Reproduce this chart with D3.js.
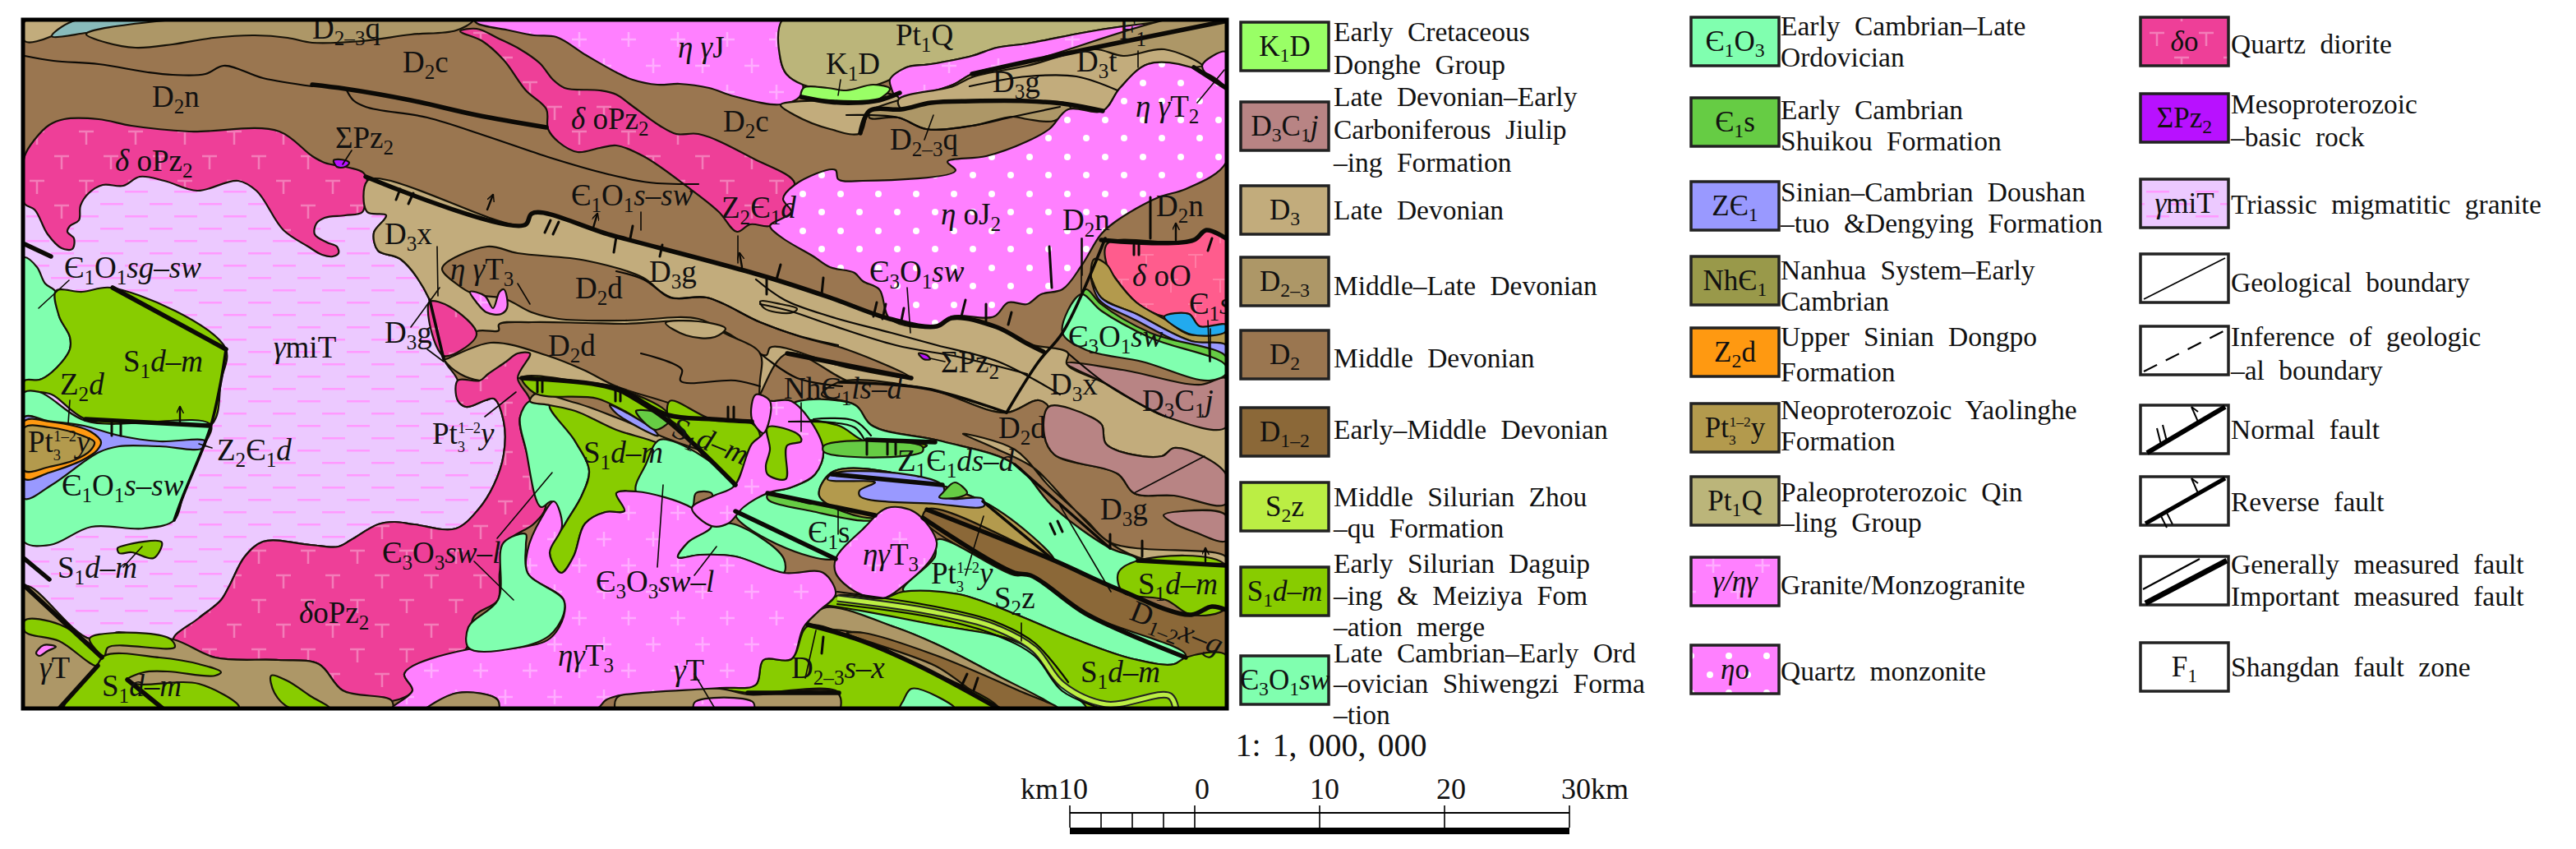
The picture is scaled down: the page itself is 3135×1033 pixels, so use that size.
<!DOCTYPE html>
<html>
<head>
<meta charset="utf-8">
<script src="https://cdn.jsdelivr.net/npm/d3@7"></script>
<style>
  html, body { margin: 0; background: #fff; }
  text { font-family: "Liberation Serif", serif; fill: #111; }
  .legendText { word-spacing: 9px; }
</style>
</head>
<body>
<div id="chart"></div>
<script>
// unit colours
var unitFill = {
  K1D: "#99ff66", D3C1j: "#b88484", D3: "#c2ac7c", D23: "#ad9767", D2: "#9a7650", D12: "#8b6838",
  S2z: "#bbee44", S1: "#88cc00", C3O1: "#80ffaf", C1O3: "#80ffaf", C1s: "#66cc44", Z: "#9999ff",
  Nh: "#99994a", Z2d: "#ff9911", Pt3: "#b39a4d", Pt1Q: "#bbb57a", gran: "#ff80ff", qmon: "#ff80ff",
  dior: "#ee3f98", sigma: "#b811ff", mig: "#ecc9ff", teal: "#88bbbb", doO: "#ff5c8d", cyan: "#22aaee"
};

// map outcrops, in map units (1 unit = 1 image pixel, 152 units = 10 km)
var tanNW = [[30,26],[88,26],[63,44],[30,50]];
var tealSliver = [[63,44],[88,26],[185,26],[105,40]];
var d23North = [[105,42],[130,52],[165,58],[210,54],[260,46],[310,43],[350,46],[380,52],[440,50],[500,42],[555,37],[575,26],[190,26]];
var migmatite = [[30,240],[450,240],[470,262],[455,283],[460,305],[487,315],[523,365],[540,437],[557,463],[557,487],[567,495],[591,487],[601,485],[613,513],[613,553],[601,590],[582,620],[555,643],[504,638],[480,635],[460,638],[427,657],[412,665],[378,663],[320,659],[298,677],[279,713],[269,730],[242,752],[211,778],[140,770],[136,775],[109,777],[30,713]];
var dioriteNW = [[30,190],[42,170],[60,152],[78,145],[120,145],[160,153],[230,160],[340,160],[380,190],[395,198],[425,204],[442,210],[447,220],[445,240],[441,258],[420,262],[395,265],[385,272],[383,285],[398,295],[410,300],[412,308],[405,312],[392,310],[375,300],[345,280],[312,232],[290,220],[240,232],[200,220],[170,215],[150,226],[125,225],[108,235],[98,250],[96,268],[85,275],[82,282],[90,290],[88,303],[75,302],[58,285],[42,255],[30,248]];
var graniteJ = [[577,24],[952,24],[950,73],[957,90],[977,103],[973,118],[950,127],[893,117],[863,107],[827,102],[800,103],[770,97],[750,88],[713,67],[677,45],[650,43],[620,37],[580,28]];
var dioriteN = [[560,38],[580,35],[607,47],[633,60],[657,77],[673,97],[687,107],[730,110],[750,115],[767,127],[803,153],[823,163],[850,163],[917,193],[967,223],[957,242],[963,258],[937,275],[913,273],[897,282],[875,258],[840,230],[783,190],[750,177],[730,180],[703,185],[680,173],[667,157],[665,133],[640,110],[613,73],[587,50]];
var pt1q = [[952,24],[1462,24],[1360,33],[1317,40],[1250,53],[1213,58],[1183,68],[1133,78],[1103,82],[1083,97],[1030,110],[977,103],[957,90],[950,73]];
var graniteSliver = [[1083,97],[1103,82],[1133,78],[1183,68],[1213,58],[1250,53],[1317,40],[1360,33],[1450,24],[1470,24],[1363,50],[1250,75],[1183,90],[1160,103],[1117,117],[1093,122],[1085,108]];
var tanLens = [[950,128],[967,140],[1010,157],[1047,162],[1058,135],[1095,133],[1093,118],[1000,122]];
var d3East = [[1058,135],[1093,122],[1160,103],[1183,90],[1250,75],[1492,24],[1492,108],[1450,82],[1397,78],[1363,107],[1342,135],[1300,127],[1250,123],[1183,123],[1133,125],[1097,133]];
var d3EastBand = [[1093,122],[1160,105],[1183,94],[1250,80],[1333,60],[1367,68],[1417,60],[1463,80],[1450,82],[1397,78],[1363,107],[1342,135],[1300,127],[1250,123],[1183,123],[1133,125],[1097,133]];
var d23East = [[1058,135],[1097,133],[1133,125],[1183,123],[1250,123],[1300,127],[1303,132],[1283,147],[1250,145],[1233,142],[1183,153],[1127,157],[1093,143],[1058,143]];
var graniteNE = [[1463,80],[1492,63],[1492,107]];
var k1d = [[978,107],[1007,107],[1030,110],[1063,103],[1083,108],[1067,122],[1040,123],[1010,122],[975,117]];
var monzoniteJ = [[967,225],[1017,207],[1020,218],[1050,220],[1163,207],[1153,197],[1200,190],[1250,172],[1277,157],[1300,133],[1342,135],[1363,107],[1397,78],[1450,82],[1492,108],[1492,198],[1443,230],[1410,240],[1357,270],[1340,285],[1317,322],[1293,352],[1267,358],[1250,370],[1227,368],[1210,385],[1158,385],[1140,397],[1083,388],[1070,352],[1050,342],[1040,332],[1010,325],[990,312],[950,288],[937,275],[963,258],[953,242]];
var doO = [[1347,297],[1453,293],[1468,280],[1492,290],[1492,395],[1460,397],[1447,382],[1417,385],[1383,368],[1357,338],[1347,322]];
var cyanPatch = [[1417,385],[1447,382],[1460,397],[1492,395],[1492,403],[1450,407]];
var pt3East = [[1332,315],[1347,322],[1357,338],[1383,368],[1417,388],[1447,407],[1492,405],[1492,418],[1450,415],[1383,382],[1340,362],[1328,338]];
var blueEast = [[1328,338],[1340,362],[1383,382],[1450,415],[1492,420],[1492,433],[1437,417],[1383,390],[1337,364]];
var c1sEast = [[1322,352],[1340,370],[1400,405],[1492,434],[1492,444],[1400,413],[1340,380],[1316,358]];
var mintEast = [[1316,358],[1340,378],[1400,411],[1492,445],[1492,455],[1472,463],[1390,440],[1320,425],[1293,405]];
var d3Main = [[447,220],[640,273],[647,260],[747,287],[933,337],[1010,362],[1083,388],[1140,397],[1158,387],[1213,398],[1250,418],[1300,430],[1298,442],[1346,467],[1419,507],[1492,520],[1492,577],[1429,545],[1414,555],[1346,540],[1341,517],[1329,508],[1276,495],[1264,487],[1225,502],[1128,473],[1041,467],[958,430],[925,480],[915,503],[866,505],[760,472],[635,460],[584,463],[560,455],[540,437],[523,365],[487,315],[460,305],[455,283],[470,262],[447,258]];
var d2Upper = [[538,327],[593,300],[630,308],[713,317],[783,338],[815,362],[860,362],[925,392],[975,410],[1030,425],[1109,460],[1030,447],[937,423],[933,432],[885,405],[850,388],[760,390],[680,388],[647,380],[613,363],[577,358],[555,345]];
var d2Lower = [[540,437],[580,403],[607,402],[607,395],[647,392],[713,393],[760,394],[850,392],[885,407],[925,430],[925,462],[915,513],[866,510],[813,490],[750,470],[710,450],[667,433],[597,417]];
var d3Inlier = [[810,393],[850,391],[883,400],[870,410],[835,408]];
var d3Ellipse = [[925,367],[950,370],[970,376],[965,380],[945,380],[930,375]];
var d2East = [[1021,465],[1128,473],[1225,502],[1264,487],[1276,495],[1271,530],[1283,553],[1361,577],[1380,600],[1429,603],[1492,613],[1492,687],[1385,678],[1351,667],[1283,618],[1235,565],[1147,537],[1060,517],[1041,493],[1000,480]];
var jiulipN = [[1298,442],[1366,450],[1462,468],[1492,460],[1492,520],[1419,507],[1390,493],[1346,467]];
var jiulipS = [[1276,495],[1329,508],[1341,517],[1346,540],[1414,555],[1429,545],[1492,577],[1492,613],[1429,603],[1380,600],[1361,577],[1307,562],[1283,553],[1271,530]];
var jiulipLens = [[1416,627],[1438,622],[1492,627],[1492,658],[1453,647],[1429,637]];
var tanSliverEast = [[1172,528],[1235,547],[1278,593],[1322,633],[1351,660],[1492,678],[1492,687],[1385,678],[1346,657],[1298,610],[1259,570],[1210,545]];
var dioriteS = [[211,778],[242,752],[269,730],[279,713],[298,677],[320,659],[378,663],[412,665],[427,657],[460,638],[480,635],[504,638],[555,643],[582,620],[601,590],[613,553],[613,513],[601,485],[591,487],[567,495],[557,487],[557,463],[584,463],[594,455],[616,440],[630,430],[645,430],[630,460],[645,488],[633,507],[640,547],[664,617],[650,637],[616,660],[608,697],[606,730],[577,750],[567,790],[533,807],[492,820],[502,840],[477,853],[417,840],[388,808],[339,803],[262,800]];
var dioriteNeck = [[523,367],[547,373],[580,407],[540,433]];
var mintLeftN = [[30,313],[45,325],[55,345],[68,355],[72,385],[85,410],[85,425],[63,453],[48,462],[30,463]];
var s1Left = [[68,354],[100,355],[135,350],[275,425],[269,463],[257,517],[104,510],[63,480],[48,477],[30,477],[30,463],[48,462],[63,453],[85,425],[85,410],[72,385]];
var mintLeftS = [[30,477],[48,477],[104,512],[257,518],[247,545],[223,603],[212,633],[175,643],[111,641],[61,663],[30,660]];
var blueLeft = [[30,507],[58,512],[102,518],[145,530],[194,537],[250,537],[247,545],[194,543],[145,543],[121,550],[63,590],[30,607]];
var orangeLeft = [[30,512],[60,513],[110,525],[123,538],[118,548],[100,560],[60,575],[30,583]];
var pt3Left = [[30,520],[60,520],[100,530],[115,538],[110,548],[90,560],[60,568],[30,573]];
var s1Patch = [[143,667],[150,664],[197,660],[187,679],[160,672],[145,673]];
var tanSW = [[30,713],[109,777],[140,772],[211,778],[262,800],[339,803],[388,808],[417,840],[477,853],[477,866],[30,866]];
var s1Corner = [[30,755],[73,760],[124,802],[119,810],[72,780],[30,768]];
var s1SW1 = [[109,777],[140,770],[208,778],[213,787],[131,788],[127,798]];
var s1SW2 = [[127,798],[194,800],[242,808],[269,818],[262,822],[204,817],[175,818],[155,827],[165,832],[242,832],[291,860],[78,862],[116,813]];
var s1SW3 = [[330,822],[349,828],[378,847],[402,862],[354,862],[334,843]];
var graniteSmall = [[44,795],[53,785],[68,787],[58,792],[48,798]];
var mintLens = [[645,488],[669,493],[700,537],[717,573],[708,603],[688,637],[669,673],[679,617],[671,610],[659,617],[640,547],[633,507]];
var mintWest = [[640,650],[613,660],[606,730],[570,763],[570,788],[630,788],[669,773],[686,747],[686,730],[642,697],[640,663]];
var s1Lens = [[669,493],[727,502],[798,537],[786,567],[774,597],[760,622],[737,623],[712,637],[698,677],[683,697],[669,673],[688,637],[708,603],[717,573],[700,537]];
var tanStrip = [[650,480],[700,490],[750,508],[803,530],[895,573],[890,590],[803,540],[750,523],[700,500],[669,493],[645,488]];
var s1Strip = [[635,460],[727,468],[760,475],[813,505],[800,520],[760,500],[727,485],[650,478]];
var blueStrip = [[742,493],[798,525],[801,530],[750,503]];
var c1sPatch = [[774,500],[818,508],[798,523]];
var s1Wedge = [[815,488],[866,510],[915,515],[925,530],[915,553],[895,590],[828,520],[813,507]];
var graniteMain = [[674,610],[684,640],[669,673],[683,697],[698,677],[712,637],[737,623],[760,622],[750,600],[774,598],[842,618],[866,640],[837,660],[825,678],[852,675],[895,677],[954,697],[1002,697],[1017,723],[997,743],[978,763],[963,802],[929,803],[920,833],[876,837],[750,847],[737,852],[727,862],[606,862],[606,852],[557,843],[516,862],[477,862],[502,840],[492,820],[570,790],[630,788],[669,777],[686,750],[686,730],[642,697],[642,670],[659,630]];
var tanBottomW = [[516,866],[557,843],[606,852],[606,866]];
var graniteStrip = [[941,488],[963,488],[1002,547],[992,577],[963,593],[934,600],[905,617],[886,637],[866,640],[842,618],[869,603],[893,592],[915,540],[929,527],[937,488]];
var graniteStrip2 = [[920,480],[937,488],[929,527],[915,510]];
var s1Inlier = [[934,520],[973,530],[975,537],[958,542],[956,583],[934,577],[932,567],[937,547]];
var mintNorthPatch = [[803,535],[893,592],[869,610],[866,600],[847,600],[842,618],[774,598],[786,565]];
var mintSouthPatch = [[866,640],[890,637],[954,680],[954,697],[895,677],[852,675],[825,678],[837,660]];
var mintCentre = [[963,493],[1041,493],[1060,517],[1147,537],[1235,565],[1283,618],[1351,667],[1385,682],[1361,717],[1283,682],[1196,610],[1012,575],[997,603],[1065,627],[1051,643],[1017,680],[895,625],[934,600],[963,593],[992,577],[1002,547]];
var nhLens = [[978,513],[1021,518],[1053,537],[1128,542],[1123,545],[1002,543]];
var c1sCentreStrip = [[1002,543],[1123,544],[1123,549],[1002,549]];
var c1sBand = [[934,602],[988,613],[997,612],[1065,627],[1063,632],[988,622],[934,607]];
var pt3Block = [[1012,575],[1196,610],[1283,682],[1128,620],[1123,630],[1080,618],[1065,630],[997,603]];
var blueBlock = [[1012,577],[1147,590],[1152,605],[1196,607],[1198,615],[1138,613],[1046,603],[1046,597],[1065,587],[1007,583]];
var c1sBlock = [[1147,600],[1162,587],[1177,600],[1167,605],[1143,605]];
var d12Band = [[1128,620],[1283,682],[1361,717],[1450,748],[1475,738],[1492,742],[1492,797],[1443,800],[1322,747],[1254,700],[1235,697],[1123,630]];
var mintSouth = [[1140,657],[1235,700],[1254,700],[1322,747],[1443,798],[1429,808],[1380,802],[1307,777],[1235,747],[1167,723],[1099,718],[1138,677]];
var graniteLens = [[1080,618],[1113,623],[1140,660],[1135,677],[1099,713],[1075,728],[1041,720],[1017,697],[1017,680],[1051,643]];
var s1South = [[1019,725],[1075,728],[1099,720],[1167,723],[1235,747],[1307,777],[1380,802],[1429,808],[1443,800],[1492,797],[1492,862],[1322,862],[1288,830],[1249,787],[1126,758],[1004,737]];
var mintBand = [[1004,737],[1126,758],[1249,787],[1288,830],[1322,862],[1283,862],[1210,820],[1138,783],[1089,763]];
var s1Right = [[1385,682],[1492,688],[1492,740],[1450,748],[1419,730],[1366,720],[1361,697]];
var tanBandS = [[1002,740],[1089,763],[1138,783],[1210,820],[1283,862],[1215,862],[1118,813],[1040,770],[983,760]];
var d12BandS = [[1031,770],[1051,770],[1138,797],[1244,842],[1288,862],[1220,862],[1138,810]];
var s1Bottom = [[983,762],[1041,777],[1118,810],[1215,862],[1021,862],[1021,843],[910,843],[876,837],[920,833],[929,803],[963,802]];
var tanBottom = [[750,850],[876,838],[910,845],[1021,845],[1021,866],[750,866]];
var graniteBottom = [[845,855],[917,855],[917,866],[845,866]];
var mintChip = [[1099,853],[1109,838],[1162,862],[1095,862]];
var sigmaNW = [[406,195],[420,195],[425,198],[420,203],[410,203]];
var sigmaCentre = [[1118,430],[1128,432],[1132,437],[1124,437]];
var graniteCentre = [[572,355],[590,360],[600,375],[608,355],[613,352],[617,375],[610,382],[592,380],[580,368]];

// order in which the outcrops are painted
var outcropKeys = ["D3","teal","D23","mig","dior","gran","dior","Pt1Q","gran","D3","D23","D3","D23","gran","K1D","D3","D2","D2","D3","D3","D2","D3C1j","D3C1j","D3C1j","D3","dior","dior","C3O1","S1","C3O1","Z","Z2d","Pt3","S1","D23","S1","S1","S1","S1","gran","C3O1","S1","D3","S1","Z","C1s","S1","C3O1","C3O1","C3O1","S1","C1s","Pt3","Z","C1s","D12","C3O1","gran","S1","C3O1","S1","D23","D12","S1","D23","gran","C3O1","gran","D23","gran","S1","sigma","sigma","gran","C3O1"];
var outcropRings = [tanNW,tealSliver,d23North,migmatite,dioriteNW,graniteJ,dioriteN,pt1q,graniteSliver,tanLens,d3East,d3EastBand,d23East,graniteNE,k1d,d3Main,d2Upper,d2Lower,d3Inlier,d3Ellipse,d2East,jiulipN,jiulipS,jiulipLens,tanSliverEast,dioriteS,dioriteNeck,mintLeftN,s1Left,mintLeftS,blueLeft,orangeLeft,pt3Left,s1Patch,tanSW,s1Corner,s1SW1,s1SW2,s1SW3,graniteSmall,mintLens,s1Lens,tanStrip,s1Strip,blueStrip,c1sPatch,s1Wedge,mintNorthPatch,mintSouthPatch,mintCentre,nhLens,c1sBand,pt3Block,blueBlock,c1sBlock,d12Band,mintSouth,graniteLens,s1South,mintBand,s1Right,tanBandS,d12BandS,s1Bottom,tanBottom,graniteBottom,mintChip,graniteMain,tanBottomW,graniteStrip,s1Inlier,sigmaNW,sigmaCentre,graniteCentre,mintWest];
var lateOutcrops = [["qmon",monzoniteJ],["doO",doO],["Pt3",pt3East],["Z",blueEast],["C1s",c1sEast],["cyan",cyanPatch],["C3O1",mintEast],["gran",graniteStrip2],["C1s",c1sCentreStrip]];

// faults: heavy lines
var heavyFaults = [
  [[380,103],[420,108],[500,122],[580,140],[665,155]],
  [[445,215],[640,273],[647,260],[747,287],[933,337],[1010,362],[1083,388],[1140,397],[1158,387],[1213,398],[1250,418],[1270,428]],
  [[1183,90],[1250,75],[1490,26]],
  [[1047,162],[1058,135],[1097,133],[1133,125],[1183,123],[1250,123],[1300,127],[1342,135]],
  [[975,118],[1010,124],[1040,125],[1070,122],[1095,113]],
  [[1340,292],[1453,292],[1468,280],[1492,290]],
  [[1453,82],[1492,107]],
  [[104,510],[255,518]],
  [[137,350],[275,425]],
  [[30,297],[62,312]],
  [[30,680],[60,705]],
  [[30,713],[124,800]],
  [[119,810],[72,862]],
  [[155,827],[198,862]],
  [[635,460],[727,468],[760,477],[813,505],[866,510],[915,513]],
  [[750,472],[810,510],[895,590]],
  [[958,430],[1109,460]],
  [[1012,577],[1147,590]],
  [[934,600],[1065,627]],
  [[895,622],[1017,680]],
  [[1128,620],[1283,682],[1361,717],[1450,748],[1475,738],[1492,742]],
  [[1123,630],[1235,697],[1254,700],[1322,747],[1443,800]],
  [[983,760],[1041,777],[1118,810],[1215,862]],
  [[1055,535],[1138,538]],
  [[1385,682],[1492,688]],
  [[910,843],[1021,843]]
];
var mediumFaults = [
  [[275,425],[269,463],[257,517],[247,545],[223,603],[212,633]],
  [[1345,290],[1293,405],[1264,440],[1225,502]],
  [[1021,465],[1128,473],[1225,502]],
  [[1196,610],[1283,682]],
  [[1235,565],[1351,667]],
  [[523,365],[540,437]]
];
// thin stratigraphic traces
var strata = [
  [[30,68],[65,74],[120,78],[180,88],[210,91],[250,90],[272,80],[320,95],[380,105]],
  [[422,110],[430,122],[445,130],[520,143],[590,165],[670,192],[740,212],[790,222],[850,224]],
  [[750,330],[783,340],[817,362],[860,362],[925,392],[970,408],[1020,420]],
  [[920,340],[955,365],[1010,385],[1085,405],[1140,420],[1215,440],[1290,480]],
  [[925,370],[960,378],[1010,395],[1090,420],[1170,435],[1250,455]],
  [[1300,430],[1346,467],[1390,493],[1419,507]],
  [[1180,105],[1250,93],[1310,93],[1360,110]],
  [[1030,140],[1093,143],[1127,157],[1183,153],[1233,142],[1290,130]],
  [[925,430],[970,460],[1025,470]],
  [[780,430],[830,450],[828,463],[895,463],[925,470]],
  [[1019,735],[1138,752],[1210,772],[1259,798],[1293,841],[1346,864]],
  [[1019,720],[1138,738],[1210,756],[1259,782],[1300,830]],
  [[990,510],[1040,512],[1060,530]],
  [[960,513],[1040,520],[1052,535]]
];
// leader lines from labels to the outcrop they name
var leaders = [
  [[428,183],[417,200]],[[47,375],[84,341]],[[1023,97],[1020,116]],[[1136,140],[1125,170]],[[1385,82],[1385,62]],
  [[1457,125],[1490,85]],[[780,258],[780,280]],[[898,287],[898,320]],[[1104,350],[1108,405]],[[1317,290],[1317,335]],
  [[1470,390],[1472,440]],[[630,345],[645,370]],[[532,300],[533,360]],[[500,398],[535,350]],[[520,425],[540,440]],
  [[85,487],[83,515]],[[628,477],[590,507]],[[258,545],[242,540]],[[150,690],[173,665]],[[577,683],[625,730]],
  [[672,575],[605,655]],[[975,490],[975,525]],[[1020,620],[1020,650]],[[1197,628],[1175,700]],[[1352,720],[1290,615]],
  [[1466,555],[1380,600]],[[1243,758],[1243,780]],[[807,590],[800,690]],[[872,665],[845,700]],[[993,767],[980,825]],
  [[845,820],[870,862]],[[1150,440],[1132,436]],[[1316,290],[1316,355]],[[1473,400],[1473,440]]
];
// short ticks across the faults, single and paired
var faultTicks = [
  [[482,243],[487,230]],[[497,248],[503,235]],[[663,283],[670,268]],[[673,285],[680,270]],[[747,307],[750,288]],
  [[770,275],[767,290]],[[803,312],[806,298]],[[933,358],[933,337]],[[945,340],[950,322]],[[1000,358],[1002,338]],
  [[1063,385],[1067,368]],[[1074,388],[1078,370]],[[1097,390],[1100,375]],[[1170,385],[1175,365]],[[1200,390],[1200,370]],
  [[1231,380],[1227,395]],[[1277,300],[1280,350]],[[886,495],[886,510]],[[893,495],[893,510]],[[1278,637],[1284,650]],
  [[1287,634],[1293,647]],[[1351,650],[1351,667]],[[1390,658],[1390,677]],[[654,460],[654,477]],[[660,460],[660,477]],
  [[749,473],[749,488]],[[755,473],[755,488]],[[136,513],[136,530]],[[147,513],[147,530]],[[1055,537],[1055,553]],
  [[1080,537],[1080,553]],[[1090,537],[1090,553]],[[1002,775],[1000,795]],[[1177,820],[1170,835]],[[1190,825],[1185,840]],
  [[1400,240],[1400,290]],[[1380,298],[1380,310]],[[1386,298],[1386,310]],[[1475,290],[1470,305]]
];
var arrowTicks = [
  [[593,255],[600,237]],[[722,277],[727,260]],[[219,515],[219,495]],[[1467,683],[1467,667]],[[1431,292],[1431,272]],[[903,325],[900,308]]
];

// map annotations
var labelText = ["D_{2–3}q","D_{2}n","*δ* oPz_{2}","D_{2}c","ΣPz_{2}","*δ* oPz_{2}","*η γ*J","Pt_{1}Q","K_{1}D","D_{2}c","D_{2–3}q","D_{3}g","D_{3}t","F_{1}","*η γ*T_{2}","*η* oJ_{2}","Є_{1}O_{1}*s–sw*","Z_{2}Є_{1}*d*","Є_{3}O_{1}*sw*","D_{3}g","ΣPz_{2}","D_{2}n","D_{2}n","*δ* oO","Є_{1}*s*","Є_{3}O_{1}*sw*","D_{3}C_{1}*j*","D_{3}x","NhЄ_{1}*ls–d*","D_{2}d","D_{3}g","Z_{1}Є_{1}*ds–d*","Є_{1}s","*ηγ*T_{3}","Pt_{3}^{1–2}*y*","S_{2}z","S_{1}*d–m*","S_{1}*d–m*","Є_{3}O_{3}*sw–l*","*ηγ*T_{3}","*γ*T","D_{2–3}*s–x*","*δ*oPz_{2}","Є_{3}O_{3}*sw–l*","Pt_{3}^{1–2}*y*","S_{1}*d–m*","Z_{2}*d*","Pt_{3}^{1–2}*y*","Z_{2}Є_{1}*d*","Є_{1}O_{1}*s–sw*","S_{1}*d–m*","S_{1}*d–m*","*γ*T","*γ*miT","Є_{1}O_{1}*sg–sw*","S_{1}*d–m*","D_{2}d","D_{2}d","D_{3}x","*η γ*T_{3}","D_{3}g","S_{1}*d–m*","D_{1–2}*x–g*"];
var labelX = [380,185,140,490,408,695,825,1090,1005,880,1083,1208,1310,1362,1382,1145,695,878,1058,790,1145,1293,1407,1378,1447,1300,1390,1278,954,1215,1339,1092,983,1050,1133,1210,1385,1315,725,679,820,963,364,465,526,150,73,34,264,75,70,124,48,333,78,710,700,667,468,548,468,815,1373];
var labelY = [47,130,208,88,180,157,70,55,90,160,182,112,87,48,142,273,250,265,343,343,453,280,263,348,382,422,500,480,485,533,632,573,660,687,710,740,723,830,720,810,828,825,758,685,540,452,480,550,560,603,703,847,825,435,338,563,363,433,297,340,417,530,753];
var labelTilt = {61: 22, 62: 22};

// legend
var legendCodes = [
  ["K_{1}D","D_{3}C_{1}*j*","D_{3}","D_{2–3}","D_{2}","D_{1–2}","S_{2}z","S_{1}*d–m*","Є_{3}O_{1}*sw*"],
  ["Є_{1}O_{3}","Є_{1}s","ZЄ_{1}","NhЄ_{1}","Z_{2}d","Pt_{3}^{1–2}y","Pt_{1}Q","*γ/ηγ*","*η*o"],
  ["*δ*o","ΣPz_{2}","*γ*miT","","","","","","F_{1}"]
];
var legendKeys = [
  ["K1D","D3C1j","D3","D23","D2","D12","S2z","S1","C3O1"],
  ["C1O3","C1s","Z","Nh","Z2d","Pt3","Pt1Q","gran","qmon"],
  ["dior","sigma","mig","white","white","white","white","white","white"]
];
var legendTop = [[27,124,226,313,402,496,587,690,798],[21,119,221,312,399,491,580,678,785],[21,114,218,309,397,493,580,677,782]];
var legendNotes = [
  [["Early Cretaceous","Donghe Group"],["Late Devonian–Early","Carboniferous Jiulip","–ing Formation"],["Late Devonian"],["Middle–Late Devonian"],["Middle Devonian"],["Early–Middle Devonian"],["Middle Silurian Zhou","–qu Formation"],["Early Silurian Daguip","–ing & Meiziya Fom","–ation merge"],["Late Cambrian–Early Ord","–ovician Shiwengzi Forma","–tion"]],
  [["Early Cambrian–Late","Ordovician"],["Early Cambrian","Shuikou Formation"],["Sinian–Cambrian Doushan","–tuo &Dengying Formation"],["Nanhua System–Early","Cambrian"],["Upper Sinian Dongpo","Formation"],["Neoproterozoic Yaolinghe","Formation"],["Paleoproterozoic Qin","–ling Group"],["Granite/Monzogranite"],["Quartz monzonite"]],
  [["Quartz diorite"],["Mesoproterozoic","–basic rock"],["Triassic migmatitic granite"],["Geological boundary"],["Inference of geologic","–al boundary"],["Normal fault"],["Reverse fault"],["Generally measured fault","Important measured fault"],["Shangdan fault zone"]]
];
var legendBaselines = [
  [[50,90],[129,169,209],[267],[359],[447],[534],[616,654],[697,736,774],[806,843,881]],
  [[43,81],[145,183],[245,283],[340,378],[421,464],[510,548],[610,647],[723],[828]],
  [[65],[138,178],[260],[355],[421,462],[534],[622],[698,737],[823]]
];
var legendColX = [1510,2058,2605];
var noteColX = [1623,2167,2715];

// scale bar
var scaleValues = [-10,-7.5,-5,-2.5,0,10,20,30];
var scaleNames = ["km10","0","10","20","30km"];
var scaleNameAt = [-10,0,10,20,30];
var scaleNameDx = [-19,9,6,8,31];

var width = 3135, height = 1033;
var x = d3.scaleLinear().domain([0,3135]).range([0,width]);
var y = d3.scaleLinear().domain([0,1033]).range([0,height]);
var km = d3.scaleLinear().domain([-10,30]).range([1302,1910]);

var svg = d3.select("#chart").append("svg")
  .attr("width", width).attr("height", height)
  .style("display", "block");
var defs = svg.append("defs");

function tile(id, w, h, fill) {
  var p = defs.append("pattern").attr("id", id).attr("patternUnits", "userSpaceOnUse")
    .attr("width", w).attr("height", h);
  p.append("rect").attr("width", w).attr("height", h).attr("fill", fill);
  return p;
}
// T marks for diorite
var tT = tile("p-dior", 60, 60, unitFill.dior);
[[15,10],[45,40]].forEach(function(c) {
  tT.append("path").attr("d", "M" + (c[0]-9) + " " + c[1] + "h18M" + c[0] + " " + c[1] + "v16")
    .attr("stroke", "#fff").attr("stroke-opacity", 0.32).attr("stroke-width", 2.5).attr("fill", "none");
});
tT = tile("p-doO", 60, 60, unitFill.doO);
[[15,10],[45,40]].forEach(function(c) {
  tT.append("path").attr("d", "M" + (c[0]-9) + " " + c[1] + "h18M" + c[0] + " " + c[1] + "v16")
    .attr("stroke", "#fff").attr("stroke-opacity", 0.2).attr("stroke-width", 2).attr("fill", "none");
});
// crosses for granite
var tC = tile("p-gran", 60, 64, unitFill.gran);
[[15,16],[45,48]].forEach(function(c) {
  tC.append("path").attr("d", "M" + (c[0]-9) + " " + c[1] + "h18M" + c[0] + " " + (c[1]-9) + "v18")
    .attr("stroke", "#fff").attr("stroke-opacity", 0.35).attr("stroke-width", 2.5).attr("fill", "none");
});
// dots for quartz monzonite
var tD = tile("p-qmon", 46, 45, unitFill.qmon);
[[11,11],[34,33]].forEach(function(c) {
  tD.append("circle").attr("cx", c[0]).attr("cy", c[1]).attr("r", 4).attr("fill", "#fff");
});
// dashes for migmatite
var tM = tile("p-mig", 60, 30, unitFill.mig);
[[2,7],[32,22]].forEach(function(c) {
  tM.append("rect").attr("x", c[0]).attr("y", c[1]).attr("width", 28).attr("height", 2.5).attr("fill", "#ff99ff");
});
defs.append("clipPath").attr("id", "mapClip").append("rect")
  .attr("x", x(28)).attr("y", y(24)).attr("width", x(1465)).attr("height", y(838));
defs.append("marker").attr("id", "tip").attr("viewBox", "0 0 10 10").attr("refX", 9).attr("refY", 5)
  .attr("markerWidth", 9).attr("markerHeight", 9).attr("markerUnits", "userSpaceOnUse").attr("orient", "auto")
  .append("path").attr("d", "M0 0L10 5L0 10").attr("fill", "none").attr("stroke", "#0c0a06").attr("stroke-width", 1.6);

function unitPaint(k) {
  return ["dior","doO","gran","qmon","mig"].indexOf(k) >= 0 ? "url(#p-" + k + ")" : unitFill[k] || "#fff";
}

var ring = d3.line().x(function(d) { return x(d[0]); }).y(function(d) { return y(d[1]); })
  .curve(d3.curveCatmullRomClosed.alpha(0.6));
var trace = d3.line().x(function(d) { return x(d[0]); }).y(function(d) { return y(d[1]); })
  .curve(d3.curveCatmullRom.alpha(0.6));

var map = svg.append("g").attr("clip-path", "url(#mapClip)");
map.append("rect").attr("x", x(28)).attr("y", y(24)).attr("width", x(1465)).attr("height", y(838))
  .attr("fill", unitFill.D2);

var rings = outcropRings.map(function(r, i) { return [outcropKeys[i], r]; });
map.selectAll("path.unit").data(rings.concat(lateOutcrops)).enter().append("path")
  .attr("class", "unit")
  .attr("d", function(d) { return ring(d[1]); })
  .attr("fill", function(d) { return unitPaint(d[0]); })
  .attr("stroke", "#161208").attr("stroke-width", 2.2).attr("stroke-linejoin", "round");

// yellow Zhouqu strip
var zhouqu = [[1019,728],[1138,745],[1210,763],[1259,790],[1293,833],[1346,857],[1424,847],[1431,862]];
map.append("path").attr("d", trace(zhouqu)).attr("fill", "none").attr("stroke", "#222").attr("stroke-width", 9);
map.append("path").attr("d", trace(zhouqu)).attr("fill", "none").attr("stroke", unitFill.S2z).attr("stroke-width", 5);

function lines(data, w) {
  return map.append("g").selectAll("path").data(data).enter().append("path")
    .attr("d", trace).attr("fill", "none").attr("stroke", "#0c0a06")
    .attr("stroke-width", w).attr("stroke-linecap", "round");
}
lines(strata, 2.2);
lines(leaders, 1.6);
lines(mediumFaults, 3.5);
lines(heavyFaults, 5.5);
lines(faultTicks, 3);
lines(arrowTicks, 2.4).attr("marker-end", "url(#tip)");

// write a code with subscripts, superscripts and italics as real text
function richText(sel, code, size) {
  var parts = code.match(/_\{[^}]*\}|\^\{[^}]*\}|\*[^*]*\*|[^_^*]+/g) || [];
  var shift = 0;
  parts.forEach(function(p, i) {
    var s = sel.append("tspan"), want = 0, txt = p;
    var next = parts[i + 1] || "", prev = parts[i - 1] || "";
    if (p[0] === "_") {
      var stacked = next[0] === "^";
      txt = p.slice(2, -1);
      want = size * (stacked ? 0.28 : 0.22);
      s.attr("font-size", size * (stacked ? 0.5 : 0.68));
    } else if (p[0] === "^") {
      txt = p.slice(2, -1);
      want = -size * 0.36;
      s.attr("font-size", size * 0.5);
      if (prev[0] === "_") s.attr("dx", -size * 0.24);
    } else if (p[0] === "*") {
      txt = p.slice(1, -1);
      s.attr("font-style", "italic");
    }
    s.attr("dy", want - shift).text(txt);
    shift = want;
  });
}

var labelG = svg.append("g").attr("clip-path", "url(#mapClip)");
labelText.forEach(function(t, i) {
  var lab = labelG.append("text").attr("x", x(labelX[i])).attr("y", y(labelY[i])).attr("font-size", 37)
    .style("white-space", "pre");
  if (labelTilt[i]) lab.attr("transform", "rotate(" + labelTilt[i] + " " + x(labelX[i]) + " " + y(labelY[i]) + ")");
  richText(lab, t, 37);
});

// map frame
svg.append("rect").attr("x", x(28)).attr("y", y(24)).attr("width", x(1465)).attr("height", y(838))
  .attr("fill", "none").attr("stroke", "#000").attr("stroke-width", 5);

// legend swatches and notes
var swatchW = 107, swatchH = 59;
legendKeys.forEach(function(col, c) {
  col.forEach(function(k, r) {
    var sx = legendColX[c], sy = legendTop[c][r];
    svg.append("rect").attr("x", x(sx)).attr("y", y(sy)).attr("width", swatchW).attr("height", swatchH)
      .attr("fill", unitPaint(k)).attr("stroke", "#222").attr("stroke-width", 3.5);
    var code = legendCodes[c][r];
    if (code) {
      var t = svg.append("text").attr("x", x(sx) + swatchW / 2).attr("y", y(sy) + swatchH / 2 + 11)
        .attr("font-size", 35).attr("text-anchor", "middle");
      richText(t, code, 35);
    }
    legendNotes[c][r].forEach(function(line, j) {
      svg.append("text").attr("class", "legendText").attr("x", x(noteColX[c]))
        .attr("y", y(legendBaselines[c][r][j])).attr("font-size", 33.5).text(line);
    });
  });
});

// line samples inside the third legend column
var sx = legendColX[2];
function sample(row, draw) {
  var g = svg.append("g").attr("transform", "translate(" + x(sx) + "," + y(legendTop[2][row]) + ")");
  draw(g);
}
function seg(g, a, b, w, dash) {
  var l = g.append("line").attr("x1", a[0]).attr("y1", a[1]).attr("x2", b[0]).attr("y2", b[1])
    .attr("stroke", "#000").attr("stroke-width", w);
  if (dash) l.attr("stroke-dasharray", dash);
}
sample(3, function(g) { seg(g, [4,55], [103,5], 1.8); });
sample(4, function(g) { seg(g, [4,55], [103,5], 2.2, "18 12"); });
sample(5, function(g) {
  seg(g, [8,58], [103,2], 6); seg(g, [70,20], [62,2], 2); seg(g, [62,2], [70,8], 2);
  seg(g, [25,48], [20,28], 2); seg(g, [32,44], [27,24], 2);
});
sample(6, function(g) {
  seg(g, [6,57], [103,2], 5); seg(g, [70,20], [62,2], 2); seg(g, [62,2], [70,8], 2);
  seg(g, [25,48], [32,62], 2); seg(g, [32,44], [39,58], 2);
});
sample(7, function(g) { seg(g, [3,40], [72,3], 2.2); seg(g, [6,57], [105,5], 6.5); });

// scale title and bar
svg.append("text").attr("x", x(1620)).attr("y", y(920)).attr("text-anchor", "middle")
  .attr("font-size", 40).attr("word-spacing", 4).text("1: 1, 000, 000");
scaleNames.forEach(function(n, i) {
  svg.append("text").attr("x", km(scaleNameAt[i]) + scaleNameDx[i]).attr("y", y(972))
    .attr("text-anchor", "middle").attr("font-size", 36).text(n);
});
var bar = svg.append("g");
bar.append("line").attr("x1", km(-10)).attr("x2", km(30)).attr("y1", y(989)).attr("y2", y(989))
  .attr("stroke", "#000").attr("stroke-width", 2);
bar.append("rect").attr("x", km(-10)).attr("width", km(30) - km(-10)).attr("y", y(1007)).attr("height", 8).attr("fill", "#000");
bar.selectAll("line.tick").data(scaleValues).enter().append("line").attr("class", "tick")
  .attr("x1", km).attr("x2", km)
  .attr("y1", function(d) { return y(d === -10 || d >= 0 ? 980 : 989); }).attr("y2", y(1007))
  .attr("stroke", "#000").attr("stroke-width", 1.6);
</script>
</body>
</html>
